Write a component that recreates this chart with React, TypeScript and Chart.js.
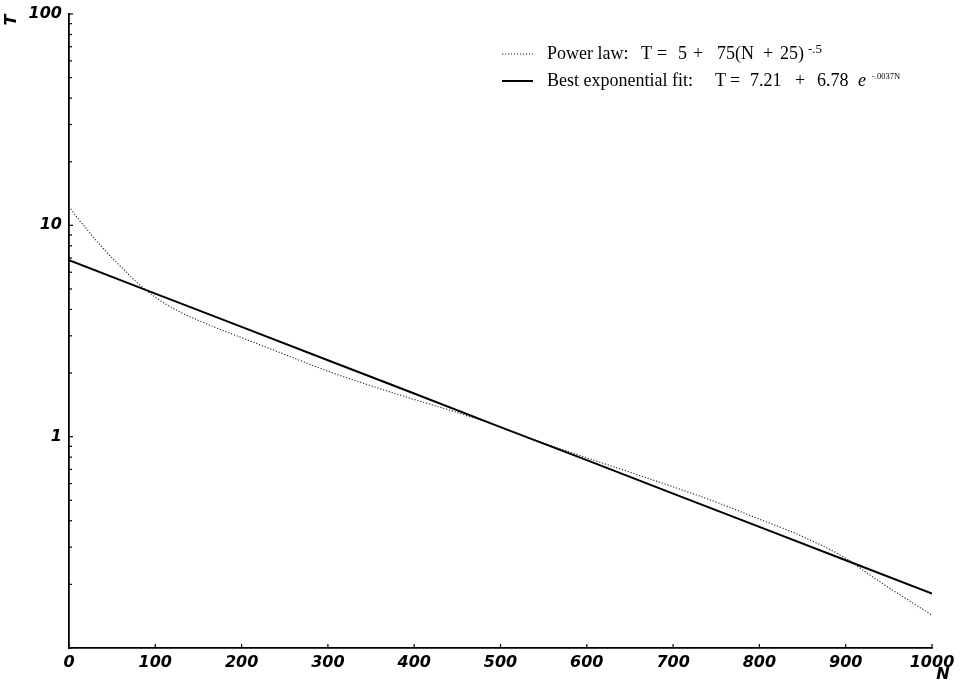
import { useEffect, useRef } from 'react';
import { Chart, registerables } from 'chart.js';

Chart.register(...registerables);

// Power-law curve (dotted)
const N_POWER = [0, 10, 20, 30, 40, 50, 60, 80, 100, 125, 150, 175, 200, 250, 300, 350, 400, 450, 500, 550, 600, 650, 700, 750, 800, 850, 900, 925, 950, 975, 1000];
const T_POWER = [12.3, 10.8, 9.66, 8.61, 7.76, 7.0, 6.38, 5.31, 4.57, 3.96, 3.55, 3.22, 2.94, 2.45, 2.04, 1.74, 1.5, 1.3, 1.11, 0.933, 0.794, 0.679, 0.579, 0.49, 0.407, 0.337, 0.266, 0.226, 0.193, 0.166, 0.143];

// Best exponential fit (solid)
const N_EXP = [0, 100, 200, 300, 400, 500, 600, 700, 800, 900, 1000];
const T_EXP = [6.84, 4.75, 3.31, 2.3, 1.6, 1.11, 0.774, 0.538, 0.374, 0.26, 0.181];

// Axes
const X_MIN = 0;
const X_MAX = 1000;
const X_STEP = 100;
const Y_MIN = 0.1;
const Y_MAX = 100;
const Y_TICKS = [0.1, 0.2, 0.3, 0.4, 0.5, 0.6, 0.7, 0.8, 0.9, 1, 2, 3, 4, 5, 6, 7, 8, 9, 10, 20, 30, 40, 50, 60, 70, 80, 90, 100];
const Y_LABELED = [1, 10, 100];

// Legend text pieces
const LEGEND_POWER = ['Power law:', 'T', '=', '5', '+', '75(N', '+', '25)'];
const LEGEND_POWER_SUP = '-.5';
const LEGEND_EXP = ['Best exponential fit:', 'T', '=', '7.21', '+', '6.78'];
const LEGEND_EXP_E = 'e';
const LEGEND_EXP_SUP = '-.0037N';

const X_TITLE = 'N';
const Y_TITLE = 'T';

const TICK_FONT = { family: '"DejaVu Sans", sans-serif', size: 16, weight: 'bold' as const, style: 'italic' as const };
const SERIF = '"Liberation Serif", "Times New Roman", serif';

// horizontal offsets of the legend text pieces
const POWER_DX = [0, 94, 110, 131, 146, 170, 216, 233];
const EXP_DX = [0, 168, 183, 203, 248, 270];

const inwardTicks = {
  id: 'inwardTicks',
  afterDatasetsDraw(chart: any) {
    const { ctx, chartArea, scales } = chart;
    ctx.save();
    ctx.strokeStyle = '#000';
    ctx.lineWidth = 1.2;
    const ys = scales.y;
    ys.ticks.forEach((t: any) => {
      const py = ys.getPixelForValue(t.value);
      const len = Y_LABELED.includes(t.value) ? 4 : 3;
      ctx.beginPath();
      ctx.moveTo(chartArea.left, py);
      ctx.lineTo(chartArea.left + len, py);
      ctx.stroke();
    });
    const xs = scales.x;
    xs.ticks.forEach((t: any) => {
      const px = xs.getPixelForValue(t.value);
      ctx.beginPath();
      ctx.moveTo(px, chartArea.bottom);
      ctx.lineTo(px, chartArea.bottom - 4);
      ctx.stroke();
    });
    ctx.restore();
  },
};

const titlesAndLegend = {
  id: 'titlesAndLegend',
  afterDraw(chart: any) {
    const { ctx, chartArea } = chart;
    ctx.save();
    ctx.fillStyle = '#000';
    // axis titles
    ctx.font = 'italic bold 16px "DejaVu Sans", sans-serif';
    ctx.textAlign = 'center';
    ctx.textBaseline = 'alphabetic';
    ctx.fillText(X_TITLE, chartArea.right + 11, chartArea.bottom + 31);
    ctx.save();
    ctx.translate(chartArea.left - 57, chartArea.top + 6);
    ctx.rotate(-Math.PI / 2);
    ctx.textBaseline = 'middle';
    ctx.fillText(Y_TITLE, 0, 0);
    ctx.restore();

    // legend
    const ds = chart.data.datasets;
    const sx0 = chartArea.left + 433;
    const sx1 = sx0 + 31;
    const tx = chartArea.left + 478;
    const y1 = chartArea.top + 40;
    const y2 = chartArea.top + 67;

    ctx.lineCap = 'butt';
    ctx.strokeStyle = ds[0].borderColor;
    ctx.lineWidth = ds[0].borderWidth;
    ctx.setLineDash(ds[0].borderDash);
    ctx.beginPath();
    ctx.moveTo(sx0, y1);
    ctx.lineTo(sx1, y1);
    ctx.stroke();
    ctx.strokeStyle = ds[1].borderColor;
    ctx.lineWidth = ds[1].borderWidth;
    ctx.setLineDash([]);
    ctx.beginPath();
    ctx.moveTo(sx0, y2);
    ctx.lineTo(sx1, y2);
    ctx.stroke();

    ctx.textAlign = 'left';
    ctx.textBaseline = 'alphabetic';
    ctx.font = `18px ${SERIF}`;
    LEGEND_POWER.forEach((s, i) => ctx.fillText(s, tx + POWER_DX[i], y1 + 5));
    ctx.font = `13px ${SERIF}`;
    ctx.fillText(LEGEND_POWER_SUP, tx + 261, y1 - 1);

    ctx.font = `18px ${SERIF}`;
    LEGEND_EXP.forEach((s, i) => ctx.fillText(s, tx + EXP_DX[i], y2 + 5));
    ctx.font = `italic 18px ${SERIF}`;
    ctx.fillText(LEGEND_EXP_E, tx + 311, y2 + 5);
    ctx.font = `8.5px ${SERIF}`;
    ctx.fillText(LEGEND_EXP_SUP, tx + 325, y2 - 2);
    ctx.restore();
  },
};

export default function App() {
  const ref = useRef<HTMLCanvasElement | null>(null);

  useEffect(() => {
    if (!ref.current) return;
    const chart = new Chart(ref.current, {
      type: 'line',
      data: {
        datasets: [
          {
            label: 'Power law',
            data: N_POWER.map((n, i) => ({ x: n, y: T_POWER[i] })),
            borderColor: '#222',
            borderWidth: 1.1,
            borderDash: [1.2, 1.8],
            pointRadius: 0,
            cubicInterpolationMode: 'monotone',
            fill: false,
          },
          {
            label: 'Best exponential fit',
            data: N_EXP.map((n, i) => ({ x: n, y: T_EXP[i] })),
            borderColor: '#000',
            borderWidth: 2,
            pointRadius: 0,
            tension: 0,
            fill: false,
          },
        ],
      },
      options: {
        animation: false,
        responsive: false,
        maintainAspectRatio: false,
        layout: { padding: { top: 14, right: 33, left: 0, bottom: 0 } },
        plugins: { legend: { display: false }, tooltip: { enabled: false } },
        scales: {
          x: {
            type: 'linear',
            min: X_MIN,
            max: X_MAX,
            ticks: {
              stepSize: X_STEP,
              color: '#000',
              font: TICK_FONT,
              padding: 5,
              maxRotation: 0,
              autoSkip: false,
              callback: (v: any) => String(v),
            },
            grid: { display: true, drawOnChartArea: false, drawTicks: false },
            border: { display: true, color: '#000', width: 1.8 },
            afterFit: (s: any) => { s.height = 40; s.paddingLeft = 0; s.paddingRight = 0; },
          },
          y: {
            type: 'logarithmic',
            min: Y_MIN,
            max: Y_MAX,
            afterBuildTicks: (s: any) => { s.ticks = Y_TICKS.map((v) => ({ value: v })); },
            ticks: {
              color: '#000',
              font: TICK_FONT,
              padding: 7,
              autoSkip: false,
              callback: (v: any) => (Y_LABELED.includes(Number(v)) ? String(v) : ''),
            },
            grid: { display: true, drawOnChartArea: false, drawTicks: false },
            border: { display: true, color: '#000', width: 1.8 },
            afterFit: (s: any) => { s.width = 69; s.paddingTop = 0; s.paddingBottom = 0; },
          },
        },
      },
      plugins: [inwardTicks, titlesAndLegend],
    });
    return () => chart.destroy();
  }, []);

  return (
    <div style={{ position: 'absolute', left: 0, top: 0, width: 965, height: 688, background: '#fff' }}>
      <canvas ref={ref} width={965} height={688} style={{ display: 'block' }} />
    </div>
  );
}
